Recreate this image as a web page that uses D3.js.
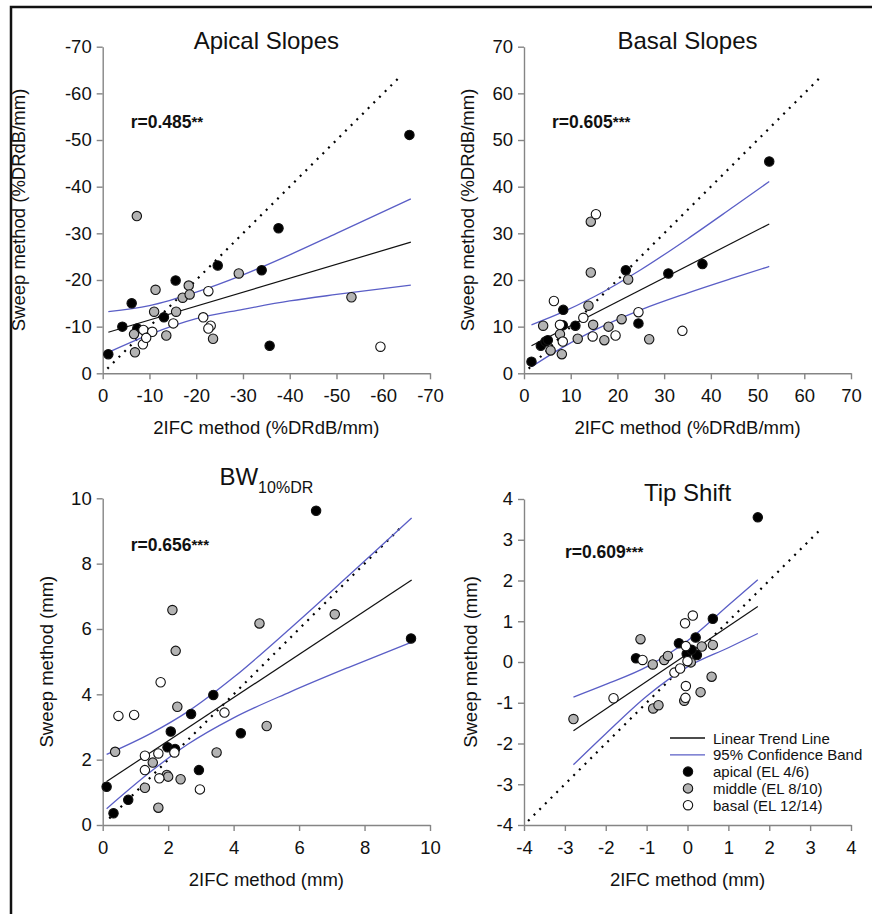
<!DOCTYPE html>
<html>
<head>
<meta charset="utf-8">
<script src="https://cdn.jsdelivr.net/npm/d3@7"></script>
<style>
  body { margin: 0; background: #fff; }
  svg { display: block; font-family: "Liberation Sans", Arial, sans-serif; }
</style>
</head>
<body>
<div id="chart"></div>
<script>
// ---- data ----
// Apical slopes (%DRdB/mm, negative), [2IFC, sweep]
const apicalSlopesApical = [[-1.2,-4.1],[-4.2,-10],[-6.2,-15],[-7.4,-9.6],[-13.1,-12],[-15.6,-19.9],[-24.6,-23.1],[-34,-22.1],[-37.6,-31.1],[-35.7,-5.9],[-65.6,-51.1]];
const apicalSlopesMiddle = [[-7.3,-33.7],[-11.3,-17.9],[-11,-13.2],[-6.7,-8.4],[-6.9,-4.5],[-13.6,-8.1],[-15.7,-13.2],[-17.1,-16.2],[-18.4,-18.8],[-18.6,-16.9],[-29.1,-21.4],[-23.6,-7.4],[-53.2,-16.3]];
const apicalSlopesBasal = [[-8.7,-9.3],[-10.6,-8.9],[-8.6,-6.2],[-9.3,-7.6],[-15.1,-10.7],[-21.5,-12],[-22.6,-17.6],[-23.1,-10.2],[-22.6,-9.6],[-59.4,-5.7]];
const apicalSlopesTrend = [[-1.2,-8.8],[-65.9,-28.1]];
const apicalSlopesUpper = [[-1.2,-13.2],[-10,-14.5],[-20,-17.4],[-30,-21.1],[-40,-25.4],[-50,-30],[-65.9,-37.4]];
const apicalSlopesLower = [[-1.2,-4.5],[-10,-8.3],[-20,-11.7],[-30,-13.7],[-40,-15.5],[-50,-16.9],[-65.9,-18.9]];
const apicalSlopesUnity = [-1, -63.3];

// Basal slopes
const basalSlopesApical = [[1.6,2.5],[3.6,5.9],[4.6,6.8],[5.1,7.1],[8.4,13.6],[8.3,10.3],[11,10.2],[21.8,22.1],[30.9,21.4],[38.2,23.4],[24.5,10.7],[52.5,45.4]];
const basalSlopesMiddle = [[4.1,10.2],[5.7,4.9],[8.1,4.1],[7.7,8.4],[11.5,7.4],[13.8,14.5],[14.3,32.5],[14.3,21.6],[14.8,10.4],[17.2,7.1],[18.1,10],[20.9,11.6],[22.3,20.1],[26.8,7.3]];
const basalSlopesBasal = [[6.4,15.5],[7.7,10.4],[8.3,6.8],[12.7,11.9],[14.7,7.9],[15.4,34.1],[19.6,8.1],[24.5,13.1],[33.9,9.1]];
const basalSlopesTrend = [[1.6,5.9],[52.5,32.0]];
const basalSlopesUpper = [[1.6,10.4],[8,13.0],[15,16.4],[25,22.2],[35,28.8],[45,35.8],[52.5,41.1]];
const basalSlopesLower = [[1.6,1.4],[8,5.4],[15,9.2],[25,13.6],[35,17.2],[45,20.5],[52.5,22.9]];
const basalSlopesUnity = [1, 63.3];

// BW 10%DR (mm)
const bwApical = [[0.12,1.17],[0.33,0.36],[0.78,0.77],[2.08,2.86],[1.98,2.38],[2.21,2.33],[2.7,3.4],[2.94,1.68],[3.38,3.98],[4.22,2.81],[6.52,9.62],[9.42,5.71]];
const bwMiddle = [[0.38,2.24],[1.29,1.14],[1.53,1.91],[1.7,0.53],[1.96,1.53],[2.0,1.48],[2.13,6.58],[2.23,5.33],[2.28,3.62],[2.38,1.4],[3.48,2.22],[4.79,6.17],[5.01,3.03],[7.09,6.45]];
const bwBasal = [[0.48,3.34],[0.96,3.37],[1.29,2.12],[1.29,1.68],[1.7,2.19],[1.73,1.43],[1.77,4.37],[2.19,2.22],[2.97,1.09],[3.72,3.44]];
const bwTrend = [[0.12,1.33],[9.44,7.5]];
const bwUpper = [[0.12,2.16],[1.5,2.82],[2.6,3.47],[4,4.52],[5.72,6.01],[7.5,7.62],[9.44,9.4]];
const bwLower = [[0.12,0.5],[1.5,1.66],[2.6,2.47],[4,3.28],[5.72,4.07],[7.5,4.82],[9.44,5.6]];
const bwUnity = [0.2, 9.1];

// Tip shift (mm)
const tipApical = [[1.72,3.55],[0.62,1.06],[0.2,0.6],[-0.21,0.46],[-0.02,0.2],[0.23,0.17],[0.1,0.3],[-1.26,0.09]];
const tipMiddle = [[-1.15,0.56],[-0.85,-0.06],[-0.57,0.05],[-0.48,0.15],[0.08,-0.01],[0.35,0.38],[0.62,0.42],[0.59,-0.36],[0.32,-0.74],[-2.79,-1.4],[-0.84,-1.14],[-0.71,-1.06],[-0.08,-0.95]];
const tipBasal = [[-1.1,0.05],[-1.81,-0.89],[-0.32,-0.26],[-0.18,-0.16],[-0.06,0.95],[0.13,1.14],[-0.04,0.39],[-0.04,-0.59],[-0.05,-0.88],[0.0,0.02]];
const tipTrend = [[-2.79,-1.69],[1.72,1.36]];
const tipUpper = [[-2.79,-0.86],[-2,-0.55],[-1,-0.12],[0,0.52],[1,1.39],[1.72,2.02]];
const tipLower = [[-2.79,-2.52],[-2,-1.76],[-1,-0.84],[0,-0.12],[1,0.35],[1.72,0.7]];
const tipUnity = [-3.9, 3.25];

const slopeTicks = [0,10,20,30,40,50,60,70];
const bwTicks = [0,2,4,6,8,10];
const tipTicks = [-4,-3,-2,-1,0,1,2,3,4];

const legendLabels = ["Linear Trend Line", "95% Confidence Band", "apical (EL 4/6)", "middle (EL 8/10)", "basal (EL 12/14)"];

const FONT = '"Liberation Sans", Arial, sans-serif';
const BLUE = "#5a5ec6";
const GREY = "#b3b3b3";
const AXIS = "#858585";

const panels = [
  { title: "Apical Slopes", r: "r=0.485", stars: "**",
    box: [102.7, 430, 46.7, 373.3], domain: [0, -70], ticks: slopeTicks.map(d => -d),
    xlab: "2IFC method (%DRdB/mm)", ylab: "Sweep method (%DRdB/mm)", yLabX: 25, rPos: [28, 81],
    groups: [apicalSlopesApical, apicalSlopesMiddle, apicalSlopesBasal],
    trend: apicalSlopesTrend, upper: apicalSlopesUpper, lower: apicalSlopesLower, unity: apicalSlopesUnity },
  { title: "Basal Slopes", r: "r=0.605", stars: "***",
    box: [524, 851, 46.7, 373.3], domain: [0, 70], ticks: slopeTicks,
    xlab: "2IFC method (%DRdB/mm)", ylab: "Sweep method (%DRdB/mm)", yLabX: 474, rPos: [28, 81],
    groups: [basalSlopesApical, basalSlopesMiddle, basalSlopesBasal],
    trend: basalSlopesTrend, upper: basalSlopesUpper, lower: basalSlopesLower, unity: basalSlopesUnity },
  { title: "BW", sub: "10%DR", r: "r=0.656", stars: "***",
    box: [102.7, 430, 498.3, 825], domain: [0, 10], ticks: bwTicks,
    xlab: "2IFC method (mm)", ylab: "Sweep method (mm)", yLabX: 53, rPos: [28, 53],
    groups: [bwApical, bwMiddle, bwBasal],
    trend: bwTrend, upper: bwUpper, lower: bwLower, unity: bwUnity },
  { title: "Tip Shift", r: "r=0.609", stars: "***",
    box: [524, 851, 499, 825], domain: [-4, 4], ticks: tipTicks,
    xlab: "2IFC method (mm)", ylab: "Sweep method (mm)", yLabX: 477, rPos: [41, 59],
    groups: [tipApical, tipMiddle, tipBasal],
    trend: tipTrend, upper: tipUpper, lower: tipLower, unity: tipUnity, legend: true }
];

const fills = ["#000", GREY, "#fff"];

const svg = d3.select("#chart").append("svg")
  .attr("width", 872)
  .attr("height", 914);

svg.append("rect").attr("width", 872).attr("height", 914).attr("fill", "#fff");

// frame (cut off at right and bottom)
svg.append("path")
  .attr("d", "M11,914 L11,7 L872,7")
  .attr("fill", "none")
  .attr("stroke", "#111")
  .attr("stroke-width", 2.5);

panels.forEach(function(p) {
  const [x0, x1, y0, y1] = p.box;
  const x = d3.scaleLinear().domain(p.domain).range([x0, x1]);
  const y = d3.scaleLinear().domain(p.domain).range([y1, y0]);
  const g = svg.append("g");

  // axes
  const xa = g.append("g").attr("transform", `translate(0,${y1})`)
    .call(d3.axisBottom(x).tickValues(p.ticks).tickSize(6).tickSizeOuter(0).tickPadding(10).tickFormat(d => String(d)));
  const ya = g.append("g").attr("transform", `translate(${x0},0)`)
    .call(d3.axisLeft(y).tickValues(p.ticks).tickSize(6).tickSizeOuter(0).tickPadding(5).tickFormat(d => String(d)));
  [xa, ya].forEach(a => {
    a.attr("font-family", FONT).attr("font-size", 18.5);
    a.select(".domain").attr("stroke", AXIS).attr("stroke-width", 1.4);
    a.selectAll(".tick line").attr("stroke", AXIS).attr("stroke-width", 1.4);
    a.selectAll(".tick text").attr("fill", "#111");
  });

  // axis titles
  g.append("text")
    .attr("x", (x0 + x1) / 2).attr("y", y1 + 61)
    .attr("text-anchor", "middle").attr("font-size", 18.5).attr("fill", "#111")
    .text(p.xlab);
  g.append("text")
    .attr("transform", `translate(${p.yLabX},${(y0 + y1) / 2}) rotate(-90)`)
    .attr("text-anchor", "middle").attr("font-size", 18.5).attr("fill", "#111")
    .text(p.ylab);

  // panel title
  const t = g.append("text")
    .attr("x", (x0 + x1) / 2).attr("y", y0 + 2)
    .attr("text-anchor", "middle").attr("font-size", 24).attr("fill", "#111")
    .text(p.title);
  if (p.sub) {
    t.attr("y", y0 - 13);
    t.append("tspan").attr("font-size", 16).attr("dy", 8).text(p.sub);
  }

  // unity line (dotted)
  g.append("line")
    .attr("x1", x(p.unity[0])).attr("y1", y(p.unity[0]))
    .attr("x2", x(p.unity[1])).attr("y2", y(p.unity[1]))
    .attr("stroke", "#000").attr("stroke-width", 2.2)
    .attr("stroke-dasharray", "2 6");

  const line = d3.line().x(d => x(d[0])).y(d => y(d[1])).curve(d3.curveMonotoneX);

  [p.upper, p.lower].forEach(band => {
    g.append("path").datum(band).attr("d", line)
      .attr("fill", "none").attr("stroke", BLUE).attr("stroke-width", 1.3);
  });
  g.append("path").datum(p.trend).attr("d", line)
    .attr("fill", "none").attr("stroke", "#111").attr("stroke-width", 1.2);

  // points: apical, middle, basal
  p.groups.forEach(function(pts, i) {
    g.append("g").selectAll("circle").data(pts).join("circle")
      .attr("cx", d => x(d[0])).attr("cy", d => y(d[1])).attr("r", 4.7)
      .attr("fill", fills[i]).attr("stroke", "#111").attr("stroke-width", 1.1);
  });

  // correlation
  const rt = g.append("text")
    .attr("x", x0 + p.rPos[0]).attr("y", y0 + p.rPos[1])
    .attr("font-size", 17.5).attr("font-weight", "bold").attr("fill", "#111")
    .text(p.r);
  rt.append("tspan").attr("font-size", 15).attr("dy", -1).text(p.stars);

  if (p.legend) {
    const lg = g.append("g").attr("transform", "translate(670,738)");
    legendLabels.forEach(function(lab, i) {
      const row = lg.append("g").attr("transform", `translate(0,${i * 16.8})`);
      if (i < 2) {
        row.append("line").attr("x1", 0).attr("x2", 35).attr("y1", 0).attr("y2", 0)
          .attr("stroke", i === 0 ? "#111" : BLUE).attr("stroke-width", 1.3);
      } else {
        row.append("circle").attr("cx", 18).attr("cy", 0).attr("r", 4.7)
          .attr("fill", fills[i - 2]).attr("stroke", "#111").attr("stroke-width", 1.1);
      }
      row.append("text").attr("x", 43).attr("y", 5.5)
        .attr("font-size", 15).attr("fill", "#111").text(lab);
    });
  }
});
</script>
</body>
</html>
